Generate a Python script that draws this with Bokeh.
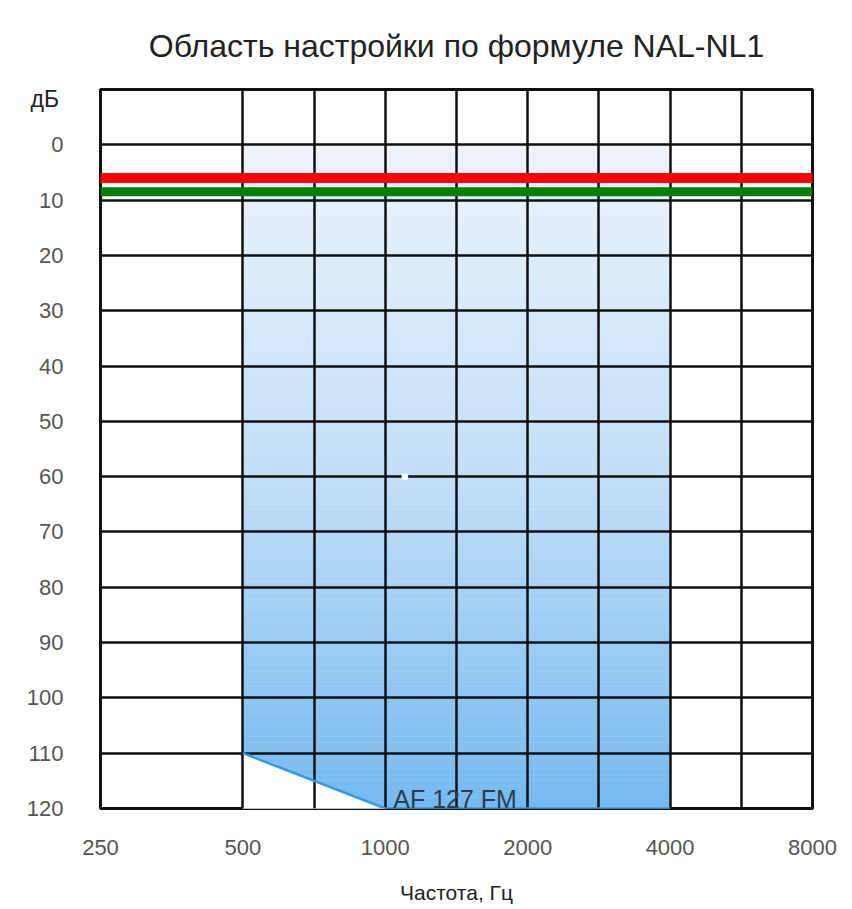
import numpy as np
from bokeh.plotting import figure
from bokeh.models import Range1d, FixedTicker, Label, Title, PrintfTickFormatter
from bokeh.embed import file_html
from bokeh.resources import INLINE

# ---- data ----
freq_ticks = [250, 500, 1000, 2000, 4000, 8000]
grid_freqs = [250, 500, 707, 1000, 1414, 2000, 2828, 4000, 5657, 8000]
db_ticks = [0, 10, 20, 30, 40, 50, 60, 70, 80, 90, 100, 110, 120]
db_grid = [-10, 0, 10, 20, 30, 40, 50, 60, 70, 80, 90, 100, 110, 120]

# fitting area (AF 127 FM)
area_left, area_right = 500, 4000
area_top = 0
edge_freqs = [500, 1000, 4000]
edge_db = [110, 120, 120]

red_freqs = [250, 8000]
red_db = [6, 6]
green_freqs = [250, 8000]
green_db = [8.5, 8.5]

dot_freq = [1100]
dot_db = [60]

FONT = "Liberation Sans"

p = figure(width=852, height=909, x_axis_type="log",
           x_range=Range1d(250, 8000), y_range=Range1d(120, -10),
           output_backend="svg", toolbar_location=None,
           min_border_left=100, min_border_right=40,
           min_border_top=85, min_border_bottom=101)
p.background_fill_color = "white"
p.border_fill_color = "white"
p.outline_line_color = "#111111"
p.outline_line_width = 3

stops_db = np.array([0, 60, 120])
stops_rgb = np.array([[236, 244, 252], [194, 223, 248], [116, 185, 240]])
edges = np.arange(area_top, 120.5, 1.0)
tops, bots, cols = [], [], []
for a, b in zip(edges[:-1], edges[1:]):
    m = (a + b) / 2
    c = [int(round(np.interp(m, stops_db, stops_rgb[:, k]))) for k in range(3)]
    tops.append(a)
    bots.append(b)
    cols.append("#%02x%02x%02x" % tuple(c))
n = len(tops)
p.quad(left=[area_left] * n, right=[area_right] * n, top=tops, bottom=bots,
       fill_color=cols, line_color=cols, line_width=0.5, level="image")
p.patch(x=[edge_freqs[0], edge_freqs[1], edge_freqs[0]],
        y=[edge_db[0], edge_db[1], edge_db[1]],
        fill_color="white", line_color="white", line_width=1, level="image")

p.xgrid.ticker = FixedTicker(ticks=grid_freqs)
p.ygrid.ticker = FixedTicker(ticks=db_grid)
for g in (p.xgrid, p.ygrid):
    g.grid_line_color = "#111111"
    g.grid_line_width = 2.5
    g.grid_line_alpha = 1.0

p.line(edge_freqs, edge_db, line_color="#2f9be6", line_width=2.5)
p.line(green_freqs, green_db, line_color="#008000", line_width=9)
p.line(red_freqs, red_db, line_color="#ff0000", line_width=10, line_cap="round")
p.scatter(dot_freq, dot_db, size=6, color="white")

p.xaxis.ticker = FixedTicker(ticks=freq_ticks)
p.xaxis.formatter = PrintfTickFormatter(format="%d")
p.yaxis.ticker = FixedTicker(ticks=db_ticks)
for ax in (p.xaxis, p.yaxis):
    ax.axis_line_color = None
    ax.major_tick_line_color = None
    ax.minor_tick_line_color = None
    ax.major_label_text_font = FONT
    ax.major_label_text_font_size = "22px"
    ax.major_label_text_color = "#555555"
p.xaxis.major_label_standoff = 25
p.yaxis.major_label_standoff = 31
p.xaxis.axis_label = "Частота, Гц"
p.xaxis.axis_label_text_font = FONT
p.xaxis.axis_label_text_font_size = "21px"
p.xaxis.axis_label_text_font_style = "normal"
p.xaxis.axis_label_text_color = "#222222"
p.xaxis.axis_label_standoff = 23

# titles
p.title.text = "Область настройки по формуле NAL-NL1"
p.title.text_font = FONT
p.title.text_font_size = "32px"
p.title.text_font_style = "normal"
p.title.text_color = "#222222"
p.title.align = "center"
p.title.standoff = 51

unit = Title(text="дБ", align="left", offset=-70, standoff=-44,
             text_font=FONT, text_font_size="23px", text_font_style="normal",
             text_color="#222222")
p.add_layout(unit, "above")

p.add_layout(Label(x=1000, y=118.2, x_offset=8, text="AF 127 FM",
                   text_font=FONT, text_font_size="25px", text_color="#2e3d4d",
                   text_align="left", text_baseline="alphabetic"))

open("out.html", "w").write(file_html(p, INLINE))
